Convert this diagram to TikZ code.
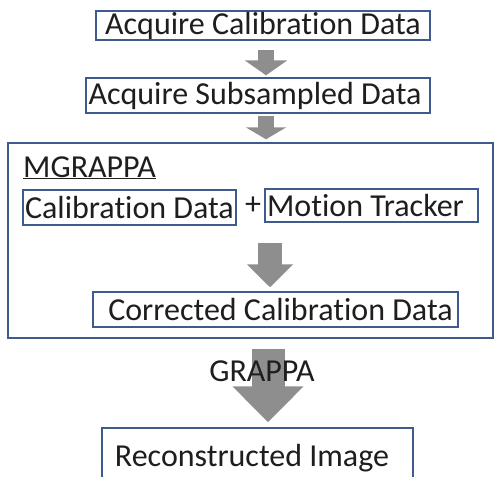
\documentclass[tikz,border=0pt]{standalone}
\usepackage{fontspec}
\setmainfont{Carlito}[Ligatures=NoCommon]
\usetikzlibrary{arrows.meta}
\definecolor{boxline}{HTML}{3F5A8E}
\definecolor{arrowgray}{HTML}{8E8E8E}
\definecolor{ink}{HTML}{1E1E1E}
\begin{document}
\begin{tikzpicture}[x=1pt,y=-1pt,
  box/.style={draw=boxline, line width=1.4pt, inner sep=0pt, text=ink,
    font=\fontsize{32}{36}\selectfont},
  blk/.style={draw=arrowgray, fill=arrowgray, line width=#1},
  plain/.style={inner sep=0pt, text=ink, font=\fontsize{32}{36}\selectfont}]
  \useasboundingbox (0,0) rectangle (494,476);
  \fill[white] (0,0) rectangle (494,476);

  % process boxes
  \node[box, minimum width=334pt, minimum height=29pt] (b1) at (263,25.5) {Acquire Calibration Data};
  \node[box, minimum width=344pt, minimum height=35pt] (b2) at (258,95.5) {\hspace*{-6pt}Acquire Subsampled Data};

  % MGRAPPA stage
  \node[box, minimum width=485pt, minimum height=195pt] (mg) at (250.5,240.5) {};
  \node[plain, anchor=base west] (title) at (23,177) {\underline{MGRAPPA}};
  \node[box, minimum width=213pt, minimum height=35pt] (cal) at (129.5,207.5) {Calibration Data};
  \node[plain] (plus) at (253,206) {+};
  \node[box, minimum width=213pt, minimum height=33pt] (mot) at (371.5,205.5) {\hspace*{-12pt}Motion Tracker};
  \node[box, minimum width=365pt, minimum height=35pt] (cor) at (275.5,309.5) {\hspace*{10pt}Corrected Calibration Data};

  % output
  \node[box, minimum width=311pt, minimum height=60pt] (rec) at (257.5,458) {\hspace*{-11pt}Reconstructed Image};

  % block arrows between stages
  \coordinate (a1) at (266,0);
  \coordinate (a3) at (270,0);
  \coordinate (a4) at (268,0);
  \draw[blk=16pt, -{Triangle[width=42pt,length=15pt]}, shorten <=9pt, shorten >=2pt]
    (b1.south -| a1) -- (b2.north -| a1);
  \draw[blk=16pt, -{Triangle[width=40pt,length=12pt]}, shorten <=2pt, shorten >=3pt]
    (b2.south -| a1) -- (mg.north -| a1);
  \draw[blk=24pt, -{Triangle[width=45pt,length=23pt]}, shorten <=17pt, shorten >=4pt]
    (cal.south -| a3) -- (cor.north -| a3);
  \draw[blk=33pt, -{Triangle[width=69pt,length=36pt]}, shorten <=10pt, shorten >=5pt]
    (mg.south -| a4) -- (rec.north -| a4);
  \node[plain] (grappa) at (262,371) {GRAPPA};
\end{tikzpicture}
\end{document}
